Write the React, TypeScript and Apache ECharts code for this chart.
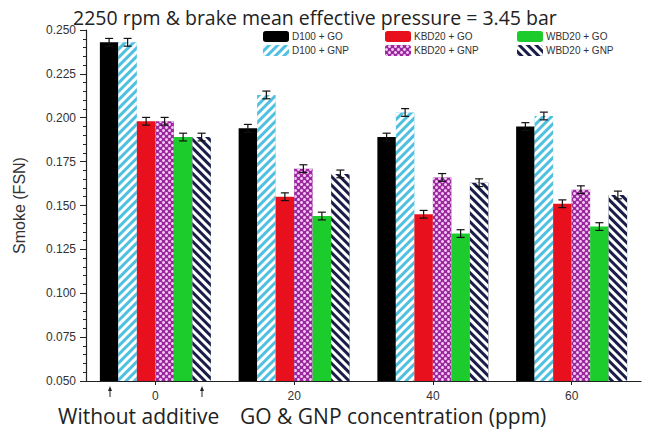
import { useEffect, useRef } from 'react';
import * as echarts from 'echarts';

// GO / GNP concentration in ppm (0 = without additive)
const categories = ['0', '20', '40', '60'];

const seriesNames = [
  'D100 + GO',
  'D100 + GNP',
  'KBD20 + GO',
  'KBD20 + GNP',
  'WBD20 + GO',
  'WBD20 + GNP',
];

// Smoke opacity (FSN)
const d100Go = [0.243, 0.194, 0.189, 0.195];
const d100Gnp = [0.243, 0.213, 0.203, 0.201];
const kbd20Go = [0.198, 0.155, 0.145, 0.151];
const kbd20Gnp = [0.198, 0.171, 0.166, 0.159];
const wbd20Go = [0.189, 0.144, 0.134, 0.138];
const wbd20Gnp = [0.189, 0.168, 0.163, 0.156];

// Standard deviation shown as error bars
const d100GoErr = [0.0022, 0.0022, 0.0022, 0.0022];
const d100GnpErr = [0.0022, 0.0022, 0.0022, 0.0022];
const kbd20GoErr = [0.0022, 0.0022, 0.0022, 0.0022];
const kbd20GnpErr = [0.0022, 0.0022, 0.0022, 0.0022];
const wbd20GoErr = [0.0022, 0.0022, 0.0022, 0.0022];
const wbd20GnpErr = [0.0022, 0.0022, 0.0022, 0.0022];

const yTicks = { min: 0.05, max: 0.25, interval: 0.025 };

const BAR_W = 18.5;

const stripes = (rotation: number, w: number) => ({
  symbol: 'rect',
  symbolSize: 1,
  color: '#ffffff',
  dashArrayX: [1, 0],
  dashArrayY: [w, w],
  rotation,
});

const styles: any[] = [
  { color: '#000000' },
  { color: '#4fc0e0', decal: stripes(-Math.PI / 4, 2.5) },
  { color: '#e8101c' },
  {
    color: '#98289c',
    decal: {
      symbol: 'circle',
      symbolSize: 1,
      color: '#f4c6f4',
      dashArrayX: [[3, 3], [0, 3, 3, 0]],
      dashArrayY: [3, 0],
      rotation: 0,
    },
  },
  { color: '#1ccc2c' },
  { color: '#1a1d48', decal: stripes(Math.PI / 4, 3) },
];

export default function App() {
  const ref = useRef<HTMLDivElement>(null);

  useEffect(() => {
    if (!ref.current) return;
    const chart = echarts.init(ref.current, undefined, { renderer: 'svg' });

    const values = [d100Go, d100Gnp, kbd20Go, kbd20Gnp, wbd20Go, wbd20Gnp];
    const errors = [d100GoErr, d100GnpErr, kbd20GoErr, kbd20GnpErr, wbd20GoErr, wbd20GnpErr];

    const bars = values.map((vals, i) => ({
      name: seriesNames[i],
      type: 'bar',
      barWidth: BAR_W,
      barGap: '0%',
      itemStyle: styles[i],
      data: vals,
    }));

    const errorBars = values.map((vals, i) => ({
      name: seriesNames[i] + ' err',
      type: 'custom',
      silent: true,
      z: 5,
      encode: { x: 0, y: 1 },
      data: vals.map((v, c) => [c, v, errors[i][c]]),
      renderItem: (_p: any, api: any) => {
        const c = api.value(0);
        const v = api.value(1);
        const e = api.value(2);
        const off = (i - 2.5) * BAR_W;
        const hi = api.coord([c, v + e]);
        const lo = api.coord([c, v - e]);
        const x = hi[0] + off;
        const cap = 4;
        const st = { stroke: '#111', lineWidth: 1.2, fill: 'none' };
        return {
          type: 'group',
          children: [
            { type: 'line', shape: { x1: x, y1: hi[1], x2: x, y2: lo[1] }, style: st },
            { type: 'line', shape: { x1: x - cap, y1: hi[1], x2: x + cap, y2: hi[1] }, style: st },
            { type: 'line', shape: { x1: x - cap, y1: lo[1], x2: x + cap, y2: lo[1] }, style: st },
          ],
        };
      },
    }));

    const legendBase = {
      orient: 'vertical',
      top: 31,
      itemWidth: 26,
      itemHeight: 11,
      itemGap: 3,
      padding: 0,
      textStyle: { fontFamily: 'Liberation Sans', fontSize: 10, color: '#333', padding: [0, 0, 0, -2] },
    };

    const arrow = (x: number) => ({
      type: 'group',
      children: [
        { type: 'line', shape: { x1: x, y1: 397, x2: x, y2: 390 }, style: { stroke: '#222', lineWidth: 1 } },
        {
          type: 'polygon',
          shape: { points: [[x - 2, 391], [x + 2, 391], [x, 386]] },
          style: { fill: '#222' },
        },
      ],
    });

    const captionStyle = { fontFamily: 'Open Sans', fontSize: 21, lineHeight: 18, fill: '#222' };

    chart.setOption({
      animation: false,
      backgroundColor: '#ffffff',
      title: {
        text: '2250 rpm & brake mean effective pressure = 3.45 bar',
        left: 68,
        top: 2,
        textStyle: { fontFamily: 'Open Sans', fontSize: 19.5, fontWeight: 'normal', color: '#222' },
      },
      legend: [
        { ...legendBase, left: 263, data: [seriesNames[0], seriesNames[1]] },
        { ...legendBase, left: 385, data: [seriesNames[2], seriesNames[3]] },
        { ...legendBase, left: 517, data: [seriesNames[4], seriesNames[5]] },
      ],
      grid: { left: 86, right: 4, top: 30, bottom: 49 },
      xAxis: {
        type: 'category',
        data: categories,
        axisLine: { lineStyle: { color: '#222', width: 1.2 } },
        axisTick: { show: true, alignWithLabel: true, length: 4, lineStyle: { color: '#222' } },
        axisLabel: { fontFamily: 'Liberation Sans', fontSize: 12, color: '#333', margin: 9 },
      },
      yAxis: {
        type: 'value',
        min: yTicks.min,
        max: yTicks.max,
        interval: yTicks.interval,
        name: 'Smoke (FSN)',
        nameLocation: 'middle',
        nameGap: 59,
        nameTextStyle: { fontFamily: 'Liberation Sans', fontSize: 16, color: '#333' },
        axisLine: { show: true, lineStyle: { color: '#222', width: 1.2 } },
        axisTick: { show: true, length: 6, lineStyle: { color: '#222' } },
        minorTick: { show: true, splitNumber: 5, length: 3, lineStyle: { color: '#222' } },
        splitLine: { show: false },
        axisLabel: {
          fontFamily: 'Liberation Sans',
          fontSize: 12,
          color: '#333',
          margin: 10,
          formatter: (v: number) => v.toFixed(3),
        },
      },
      graphic: [
        arrow(110),
        arrow(202),
        {
          type: 'text',
          left: 58,
          top: 405,
          style: { text: 'Without additive', ...captionStyle },
        },
        {
          type: 'text',
          left: 240,
          top: 405,
          style: { text: 'GO & GNP concentration (ppm)', ...captionStyle },
        },
      ],
      series: [...bars, ...errorBars],
    });

    return () => chart.dispose();
  }, []);

  return <div ref={ref} style={{ width: 645, height: 430, position: 'absolute', left: 0, top: 0 }} />;
}
